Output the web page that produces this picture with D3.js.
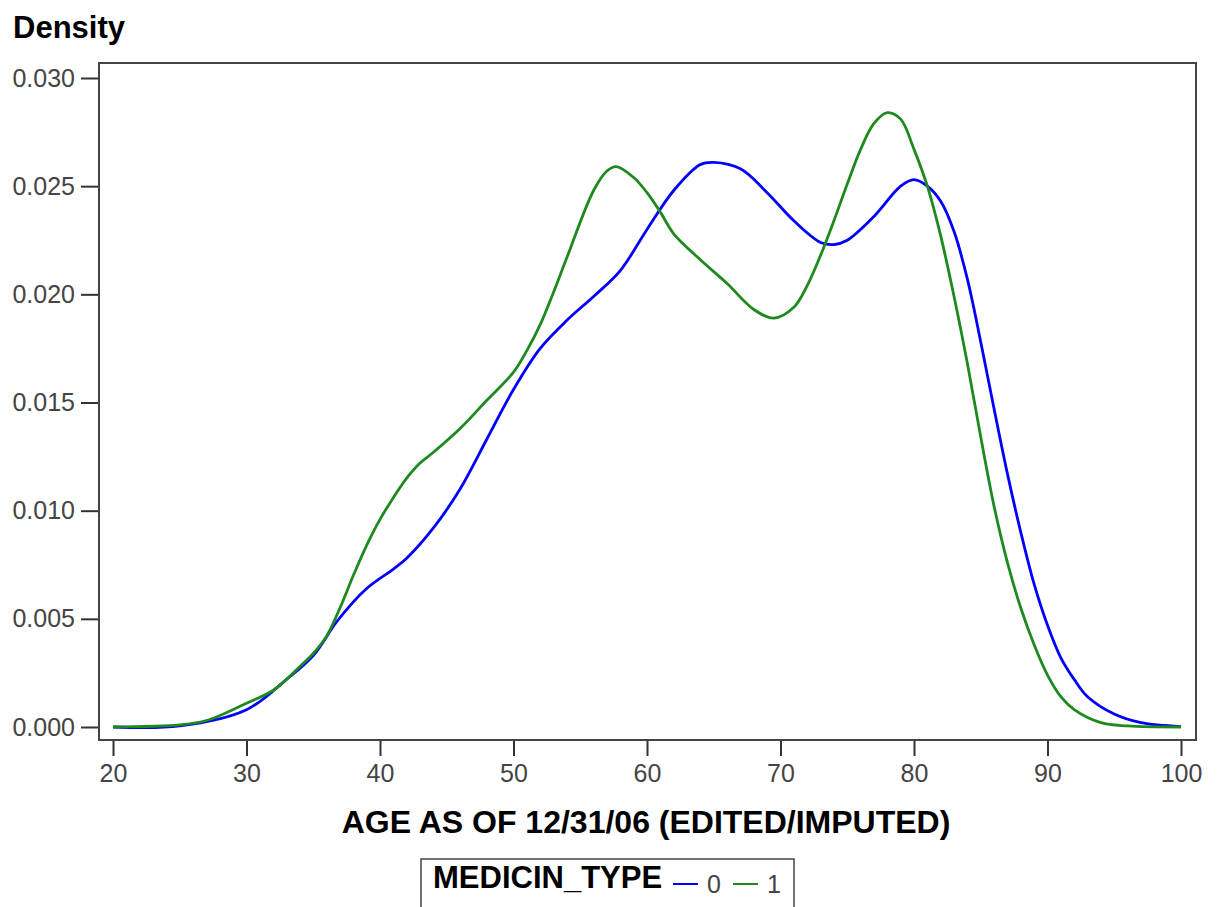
<!DOCTYPE html>
<html>
<head>
<meta charset="utf-8">
<script src="https://cdn.jsdelivr.net/npm/d3@7"></script>
<style>
  body { margin: 0; background: #fff; }
  svg { display: block; font-family: "Liberation Sans", Arial, sans-serif; }
</style>
</head>
<body>
<svg id="chart" width="1217" height="907"></svg>
<script>
// ages sampled along the density curves
const ages0 = [20, 25, 30, 33, 35, 36.8, 39, 41, 42, 44, 46, 48, 50, 52, 54, 56, 58, 60, 62, 64, 65, 67, 69, 71, 73, 74, 75, 77, 79, 80, 81, 82, 83, 84, 85, 86, 87, 88, 89, 90, 91, 92, 93, 95, 97, 100];
const dens0 = [0, 0.00005, 0.0008, 0.0022, 0.0033, 0.0049, 0.0064, 0.0073, 0.0078, 0.0092, 0.0110, 0.0133, 0.0156, 0.0175, 0.0188, 0.0199, 0.0211, 0.0230, 0.0248, 0.0260, 0.0261, 0.0258, 0.0247, 0.0234, 0.0224, 0.0223, 0.0225, 0.0236, 0.0250, 0.0253, 0.0250, 0.0243, 0.0229, 0.0207, 0.0178, 0.0147, 0.0117, 0.0090, 0.0066, 0.0047, 0.0032, 0.0022, 0.0014, 0.0006, 0.0002, 0.00002];

const ages1 = [20, 25, 27, 30, 32, 34, 35, 36, 37, 38, 39, 40, 41, 42, 43, 44, 46, 48, 50, 51, 52, 53, 54, 56, 57, 57.7, 59, 60, 61, 62, 64, 66, 68, 69.5, 71, 72, 73, 74, 75, 76, 77, 78, 79, 80, 81, 82, 83, 84, 85, 86, 87, 88, 89, 90, 91, 92, 94, 96, 100];
const dens1 = [0, 0.0001, 0.0003, 0.0011, 0.0017, 0.0028, 0.0034, 0.0042, 0.0055, 0.0070, 0.0084, 0.0096, 0.0106, 0.0115, 0.0122, 0.0127, 0.0138, 0.0151, 0.0164, 0.0174, 0.0186, 0.0201, 0.0217, 0.0248, 0.0257, 0.0259, 0.0254, 0.0247, 0.0238, 0.0228, 0.0216, 0.0205, 0.0193, 0.0189, 0.0194, 0.0204, 0.0218, 0.0234, 0.0251, 0.0267, 0.0279, 0.0284, 0.0281, 0.0267, 0.0250, 0.0227, 0.0199, 0.0168, 0.0134, 0.0102, 0.0076, 0.0055, 0.0038, 0.0024, 0.0014, 0.0008, 0.0002, 0.00005, 0];

const xTicks = [20, 30, 40, 50, 60, 70, 80, 90, 100];
const yTicks = [0, 0.005, 0.010, 0.015, 0.020, 0.025, 0.030];
const groups = ['0', '1'];
const colors = ['#0000ff', '#1e8a1e'];

const svg = d3.select('#chart');
const frame = { left: 99, top: 63, right: 1196, bottom: 740 };

const x = d3.scaleLinear().domain([20, 100]).range([113, 1181]);
const y = d3.scaleLinear().domain([0, 0.030]).range([727, 78]);

// y axis
const yAxis = svg.append('g')
    .attr('transform', `translate(${frame.left},0)`)
    .call(d3.axisLeft(y).tickValues(yTicks).tickFormat(d3.format('.3f')).tickSize(18).tickPadding(6));
// x axis
const xAxis = svg.append('g')
    .attr('transform', `translate(0,${frame.bottom})`)
    .call(d3.axisBottom(x).tickValues(xTicks).tickSize(16).tickPadding(8));

[yAxis, xAxis].forEach(g => {
    g.select('.domain').remove();
    g.selectAll('line').attr('stroke', '#333').attr('stroke-width', 2);
    g.selectAll('text')
        .attr('fill', '#444')
        .style('font-size', '25px')
        .style('font-family', '"Liberation Sans", Arial, sans-serif');
});

// plot frame
svg.append('rect')
    .attr('x', frame.left)
    .attr('y', frame.top)
    .attr('width', frame.right - frame.left)
    .attr('height', frame.bottom - frame.top)
    .attr('fill', 'none')
    .attr('stroke', '#444')
    .attr('stroke-width', 2);

const line = d3.line()
    .x(d => x(d[0]))
    .y(d => y(d[1]))
    .curve(d3.curveCatmullRom.alpha(0.5));

const series = [d3.zip(ages0, dens0), d3.zip(ages1, dens1)];
svg.selectAll('.curve')
    .data(series)
    .enter()
    .append('path')
    .classed('curve', true)
    .attr('d', line)
    .attr('fill', 'none')
    .attr('stroke', (d, i) => colors[i])
    .attr('stroke-width', 2.8);

// titles
svg.append('text')
    .text('Density')
    .attr('x', 13)
    .attr('y', 38)
    .style('font-size', '31px')
    .style('font-weight', 'bold');

svg.append('text')
    .text('AGE AS OF 12/31/06 (EDITED/IMPUTED)')
    .attr('x', 646)
    .attr('y', 833)
    .attr('text-anchor', 'middle')
    .style('font-size', '32px')
    .style('font-weight', 'bold');

// legend
const legend = svg.append('g');
legend.append('rect')
    .attr('x', 421)
    .attr('y', 859)
    .attr('width', 373)
    .attr('height', 70)
    .attr('fill', 'none')
    .attr('stroke', '#444')
    .attr('stroke-width', 1.5);
legend.append('text')
    .text('MEDICIN_TYPE')
    .attr('x', 433)
    .attr('y', 888)
    .style('font-size', '31px')
    .style('font-weight', 'bold');
const legendX = [673, 733];
groups.forEach((g, i) => {
    legend.append('line')
        .attr('x1', legendX[i]).attr('x2', legendX[i] + 25)
        .attr('y1', 884).attr('y2', 884)
        .attr('stroke', colors[i])
        .attr('stroke-width', 2);
    legend.append('text')
        .text(g)
        .attr('x', legendX[i] + 34)
        .attr('y', 893)
        .attr('fill', '#444')
        .style('font-size', '25px');
});
</script>
</body>
</html>
